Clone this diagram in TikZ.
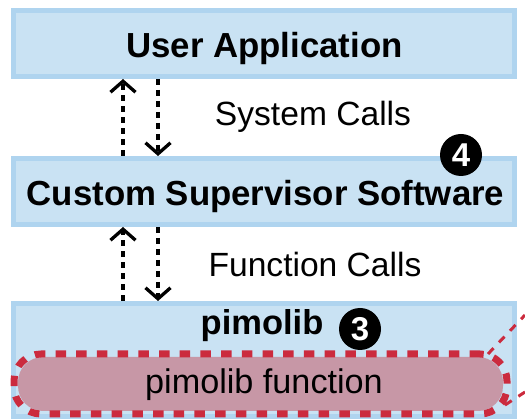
\documentclass[tikz,border=0pt]{standalone}
\usepackage{fontspec}
\setmainfont{Liberation Sans}
\usepackage{xcolor}
\usetikzlibrary{positioning, calc}
\usetikzlibrary{arrows.meta}
\definecolor{boxfill}{HTML}{C9E2F3}
\definecolor{boxline}{HTML}{AFD4EF}
\definecolor{pillfill}{HTML}{C797A6}
\definecolor{pillline}{HTML}{CB2B3E}

\begin{document}
\begin{tikzpicture}[x=1pt, y=-1pt, auto, node distance = 148pt and 0pt, on grid,
layer/.style ={rectangle, fill = boxfill, draw = boxline, line width = 5pt, minimum width = 501pt, minimum height = 66pt, inner sep = 0pt, text = black, text height = 29pt, text depth = 0pt, font = \fontsize{34.8}{40}\selectfont\bfseries},
call/.style ={font = \fontsize{33.6}{38}\selectfont},
badge/.style ={circle, fill = black, text = white, minimum width = 42pt, inner sep = 0pt, font = \fontsize{33}{38}\selectfont\bfseries},
flow/.style ={line width = 3.3pt, dash pattern = on 6pt off 5pt, -{Straight Barb[length = 11pt, width = 25pt, line width = 3.3pt]}},
lead/.style ={draw = pillline, line width = 3pt, dash pattern = on 8pt off 8pt}]
\useasboundingbox (0,0) rectangle (525,419);
\node[layer] (U) at (264,43.5) {\hspace*{1pt}User Application};
\node[layer] (S) [below = of U] {\hspace*{3pt}Custom Supervisor Software};
\node[layer, minimum height = 113pt] (P) [below = 168.5pt of S] {};
\node[font = \fontsize{34.5}{40}\selectfont\bfseries] (PL) at (262,326) {pimolib};
\node[badge] (B3) at (360,329) {3};
\node[badge] (B4) at (461,155) {4};
\node[call] (SC) at (313,117) {System Calls};
\node[call] (FC) at (315,264) {Function Calls};
% red pill
\coordinate (T1) at (525,315);
\coordinate (T2) at (525,392);
\coordinate (F1) at (488,354);
\coordinate (F2) at (505,405);
\draw[lead] (F1) -- (T1);
\draw[lead] (F2) -- (T2);
\node[rectangle, rounded corners = 25pt, fill = pillfill, minimum width = 485pt, minimum height = 54pt, inner sep = 0pt] (F) at (260.5,384) {};
\node[font = \fontsize{34.2}{38}\selectfont] (FT) at (264,385) {pimolib function};
\node[rectangle, rounded corners = 27pt, draw = pillline, line width = 7pt, dash pattern = on 10.5pt off 10.2pt, minimum width = 493pt, minimum height = 60pt, inner sep = 0pt] (FD) at (260.5,384) {};
% calls
\draw[flow] ([xshift = -141pt]S.north) -- ([xshift = -141pt]U.south);
\draw[flow] ([xshift = -106pt]U.south) -- ([xshift = -106pt]S.north);
\draw[flow] ([xshift = -141pt]P.north) -- ([xshift = -141pt]S.south);
\draw[flow] ([xshift = -106pt]S.south) -- ([xshift = -106pt]P.north);
\end{tikzpicture}
\end{document}
